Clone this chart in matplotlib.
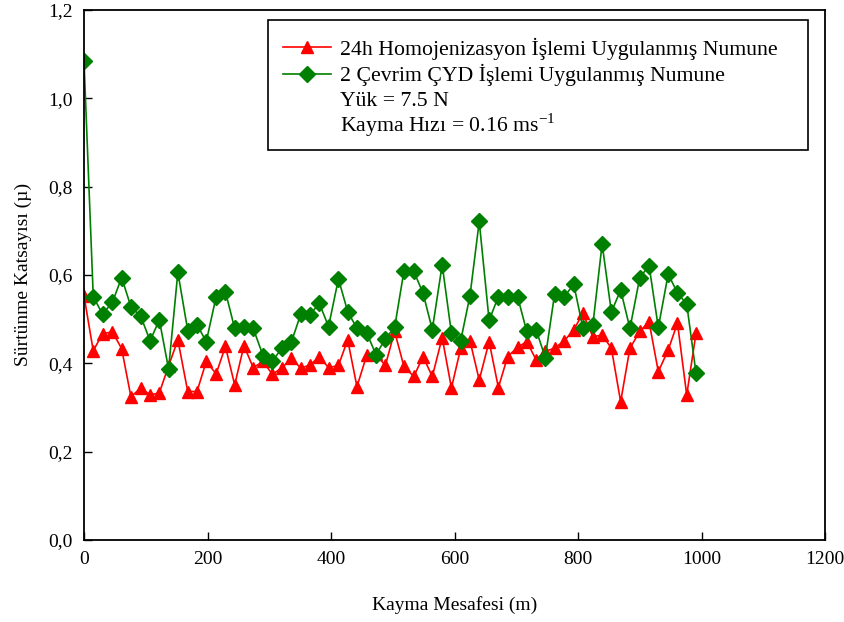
import matplotlib.pyplot as plt
from matplotlib.lines import Line2D
from matplotlib.patches import Rectangle
from matplotlib.ticker import FuncFormatter

plt.rcParams['font.family'] = ['Liberation Serif', 'DejaVu Serif']
plt.rcParams['mathtext.fontset'] = 'stix'

# sliding distance (m)
distance = [0, 15, 30, 46, 61, 76, 92, 107, 122, 137, 152, 168, 183, 198, 214, 229,
            244, 259, 274, 290, 305, 320, 336, 351, 366, 381, 396, 412, 427, 442, 458,
            473, 488, 503, 518, 534, 549, 564, 580, 595, 610, 625, 640, 656, 671, 686,
            702, 717, 732, 747, 762, 778, 793, 808, 824, 839, 854, 869, 884, 900, 915,
            930, 946, 961, 976, 991]

# 24h homogenized sample
mu_homo = [0.553, 0.428, 0.467, 0.471, 0.433, 0.324, 0.344, 0.328, 0.333, 0.394,
           0.453, 0.336, 0.336, 0.404, 0.376, 0.438, 0.351, 0.440, 0.390, 0.404,
           0.375, 0.389, 0.411, 0.389, 0.396, 0.415, 0.390, 0.395, 0.453, 0.347,
           0.419, 0.420, 0.395, 0.472, 0.393, 0.370, 0.415, 0.370, 0.458, 0.344,
           0.434, 0.451, 0.362, 0.449, 0.345, 0.415, 0.436, 0.449, 0.408, 0.427,
           0.434, 0.451, 0.476, 0.513, 0.460, 0.464, 0.434, 0.313, 0.434, 0.472,
           0.494, 0.381, 0.430, 0.491, 0.328, 0.468]

# 2 cycle CYD sample
mu_cyd = [1.085, 0.551, 0.511, 0.538, 0.594, 0.528, 0.506, 0.451, 0.498, 0.387,
          0.606, 0.474, 0.487, 0.449, 0.551, 0.562, 0.479, 0.483, 0.479, 0.417,
          0.404, 0.434, 0.449, 0.511, 0.510, 0.536, 0.483, 0.591, 0.517, 0.479,
          0.468, 0.419, 0.456, 0.481, 0.608, 0.608, 0.559, 0.476, 0.623, 0.468,
          0.451, 0.553, 0.721, 0.497, 0.551, 0.551, 0.551, 0.472, 0.476, 0.413,
          0.556, 0.551, 0.579, 0.479, 0.487, 0.670, 0.516, 0.566, 0.479, 0.594,
          0.621, 0.481, 0.602, 0.559, 0.534, 0.378]

labels = ["24h Homojenizasyon İşlemi Uygulanmış Numune",
          "2 Çevrim ÇYD İşlemi Uygulanmış Numune"]
notes = ["Yük = 7.5 N",
         r"Kayma Hızı = 0.16 ms$^{\mathregular{-1}}$"]

fig = plt.figure(figsize=(8.45, 6.22), dpi=100)
ax = fig.add_axes([0.0994, 0.132, 0.877, 0.852])

ax.plot(distance, mu_homo, color='#ff0000', marker='^', markersize=9,
        linewidth=1.2)
ax.plot(distance, mu_cyd, color='#008000', marker='D', markersize=8,
        linewidth=1.2)

ax.set_xlim(0, 1200)
ax.set_ylim(0, 1.2)
ax.set_xticks([0, 200, 400, 600, 800, 1000, 1200])
ax.set_yticks([0, 0.2, 0.4, 0.6, 0.8, 1.0, 1.2])
ax.yaxis.set_major_formatter(FuncFormatter(lambda v, p: '{:.1f}'.format(v).replace('.', ',')))
ax.tick_params(direction='in', length=6, width=1, labelsize=14, pad=8)
for s in ax.spines.values():
    s.set_linewidth(1.3)

ax.set_xlabel('Kayma Mesafesi (m)', fontsize=14, labelpad=20)
ax.set_ylabel('Sürtünme Katsayısı (µ)', fontsize=14, labelpad=12)

# legend box
ax.add_patch(Rectangle((0.248, 0.736), 0.729, 0.245, transform=ax.transAxes,
                       fill=False, edgecolor='black', linewidth=1.2, zorder=5))

handles = [Line2D([], [], color='#ff0000', marker='^', markersize=9, linewidth=1.2),
           Line2D([], [], color='#008000', marker='D', markersize=8, linewidth=1.2)]
ax.legend(handles, labels, loc='upper left', bbox_to_anchor=(0.268, 0.948),
          frameon=False, fontsize=15.7, handlelength=2.2, handletextpad=0.45,
          labelspacing=0.2, borderpad=0, borderaxespad=0)

ax.text(0.345, 0.828, notes[0], transform=ax.transAxes, fontsize=15.7,
        va='center', ha='left')
ax.text(0.345, 0.783, notes[1], transform=ax.transAxes, fontsize=15.7,
        va='center', ha='left')

fig.savefig('out.png', dpi=100)
